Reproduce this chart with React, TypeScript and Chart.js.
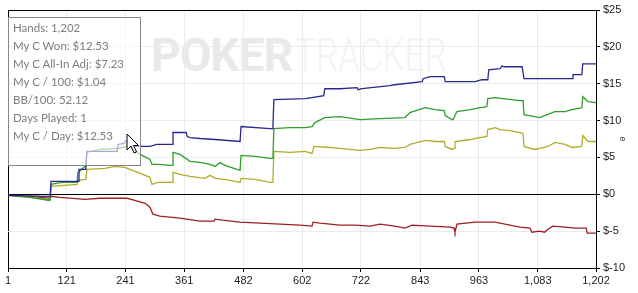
import React, { useEffect, useRef } from 'react';
import { Chart, registerables } from 'chart.js';

Chart.register(...registerables);

// ---- data ----
const handTicks = [1, 121, 241, 361, 482, 602, 722, 843, 963, 1083, 1202];
const dollarTicks = [-10, -5, 0, 5, 10, 15, 20, 25];

const blueHands = [1, 83, 87, 89, 144, 146, 160, 162, 224, 226, 238, 240, 246, 250, 291, 305, 336, 338, 365, 367, 373, 393, 424, 475, 477, 536, 542, 544, 608, 622, 646, 648, 679, 714, 716, 724, 781, 791, 847, 849, 863, 892, 894, 955, 969, 981, 983, 1006, 1010, 1014, 1051, 1055, 1153, 1155, 1173, 1175, 1202];
const blueWonPlusRake = [-0.14, -0.27, -0.27, 1.76, 1.76, 3.38, 3.38, 5.81, 5.81, 6.76, 6.89, 7.16, 7.30, 6.49, 6.49, 6.76, 6.76, 8.38, 8.38, 7.84, 7.70, 7.57, 7.43, 7.16, 9.19, 8.92, 8.92, 12.84, 12.97, 13.11, 13.38, 14.32, 14.32, 14.46, 14.19, 14.32, 14.73, 14.86, 15.27, 15.68, 15.95, 15.95, 15.27, 15.27, 15.54, 15.54, 16.89, 17.03, 17.43, 17.30, 17.30, 15.68, 15.68, 16.22, 16.22, 17.70, 17.70];

const greenHands = [1, 46, 83, 87, 89, 111, 142, 144, 158, 160, 162, 189, 226, 244, 260, 271, 291, 295, 307, 336, 338, 352, 373, 393, 414, 424, 434, 444, 475, 477, 506, 536, 542, 544, 577, 608, 622, 628, 648, 679, 720, 761, 812, 822, 853, 873, 892, 894, 908, 910, 918, 945, 965, 979, 981, 996, 1012, 1047, 1053, 1055, 1087, 1097, 1118, 1139, 1153, 1173, 1175, 1186, 1202];
const greenWon = [-0.14, -0.41, -0.81, -0.81, 1.35, 1.62, 1.62, 2.97, 3.78, 3.78, 5.68, 6.08, 6.22, 6.49, 6.08, 5.41, 4.73, 4.05, 4.05, 3.92, 5.68, 5.41, 4.46, 4.32, 4.05, 3.78, 4.32, 3.92, 3.24, 5.27, 5.14, 4.86, 4.86, 8.92, 9.05, 9.05, 9.19, 9.73, 10.41, 10.54, 10.14, 10.27, 10.41, 11.08, 11.76, 11.49, 11.35, 10.68, 10.14, 10.14, 11.22, 11.49, 11.76, 11.89, 12.97, 13.11, 12.97, 12.70, 12.70, 10.81, 10.41, 10.68, 11.22, 11.22, 11.49, 11.76, 13.24, 12.57, 12.43];

const yellowHands = [1, 46, 83, 87, 89, 142, 144, 160, 162, 199, 220, 240, 250, 271, 291, 295, 307, 336, 338, 352, 373, 403, 414, 424, 444, 475, 477, 506, 536, 542, 544, 577, 608, 622, 626, 658, 679, 720, 740, 761, 791, 812, 822, 853, 873, 892, 894, 908, 912, 914, 945, 965, 979, 981, 996, 1006, 1026, 1047, 1053, 1055, 1077, 1087, 1104, 1118, 1139, 1153, 1173, 1175, 1186, 1202];
const yellowAllInAdj = [-0.14, -0.41, -0.68, -0.68, 1.08, 1.35, 1.89, 2.03, 3.38, 3.51, 3.78, 3.65, 3.38, 2.84, 2.30, 1.35, 1.62, 1.62, 2.97, 2.70, 2.43, 2.16, 2.57, 2.16, 2.03, 1.62, 2.16, 2.03, 1.62, 1.62, 5.81, 5.68, 5.81, 5.54, 6.49, 6.35, 6.22, 5.95, 6.08, 6.35, 6.22, 6.35, 6.76, 7.30, 7.16, 7.16, 6.49, 6.08, 6.22, 7.16, 7.43, 7.70, 7.84, 8.78, 9.05, 8.78, 8.65, 8.38, 8.24, 6.49, 6.08, 6.22, 6.49, 7.03, 6.76, 6.35, 6.49, 7.97, 7.16, 7.16];

const redHands = [1, 46, 85, 87, 89, 107, 158, 189, 244, 260, 281, 291, 297, 311, 352, 393, 422, 424, 438, 475, 516, 557, 597, 622, 624, 638, 679, 710, 740, 761, 791, 812, 826, 863, 904, 912, 914, 918, 955, 996, 1026, 1047, 1067, 1071, 1087, 1097, 1104, 1114, 1139, 1159, 1182, 1184, 1202];
const redRake = [-0.14, -0.27, -0.54, -0.54, -0.27, -0.41, -0.68, -0.54, -0.54, -0.81, -1.22, -1.76, -2.70, -2.97, -3.24, -3.65, -3.65, -3.38, -3.51, -3.78, -3.92, -4.05, -4.19, -4.32, -3.78, -3.92, -4.19, -4.19, -4.32, -4.05, -4.32, -4.59, -4.19, -4.32, -4.46, -4.59, -5.14, -4.05, -3.78, -3.78, -4.19, -4.46, -4.59, -5.14, -5.00, -5.14, -4.73, -4.32, -4.46, -4.59, -4.59, -5.27, -5.27];

const infoLines = [
  'Hands: 1,202',
  'My C Won: $12.53',
  'My C All-In Adj: $7.23',
  'My C / 100: $1.04',
  'BB/100: 52.12',
  'Days Played: 1',
  'My C / Day: $12.53',
];

const toPoints = (xs: number[], ys: number[]) => xs.map((x, i) => ({ x, y: ys[i] }));

const axisFont = { family: "'Liberation Sans', Arial, sans-serif", size: 11 };

export default function App() {
  const ref = useRef<HTMLCanvasElement | null>(null);

  useEffect(() => {
    if (!ref.current) return;
    const chart = new Chart(ref.current, {
      type: 'line',
      data: {
        datasets: [
          { label: 'My C Won + Rake', data: toPoints(blueHands, blueWonPlusRake), borderColor: '#28288c', borderWidth: 1.3, pointRadius: 0, tension: 0 },
          { label: 'My C Won', data: toPoints(greenHands, greenWon), borderColor: '#2f9e2f', borderWidth: 1.3, pointRadius: 0, tension: 0 },
          { label: 'My C All-In Adj', data: toPoints(yellowHands, yellowAllInAdj), borderColor: '#b1ab2a', borderWidth: 1.3, pointRadius: 0, tension: 0 },
          { label: 'Rake', data: toPoints(redHands, redRake), borderColor: '#9e2020', borderWidth: 1.3, pointRadius: 0, tension: 0 },
        ],
      },
      options: {
        animation: false,
        responsive: false,
        devicePixelRatio: 1,
        layout: { padding: { left: 8, top: 10, right: 0, bottom: 0 } },
        plugins: { legend: { display: false }, tooltip: { enabled: false } },
        scales: {
          x: {
            type: 'linear',
            min: 1,
            max: 1202,
            position: 'bottom',
            afterBuildTicks: (s: any) => { s.ticks = handTicks.map((v) => ({ value: v })); },
            afterFit: (s: any) => { s.height = 25; },
            ticks: {
              autoSkip: false,
              maxRotation: 0,
              font: axisFont,
              color: '#222',
              padding: 2,
              callback: (v: any) => Number(v).toLocaleString('en-US'),
            },
            grid: {
              color: (c: any) => (c.tick && c.tick.value === 1 ? '#000' : '#ebebeb'),
              tickColor: '#000',
              tickLength: 4,
            },
            border: { color: '#000', width: 1 },
          },
          y: {
            position: 'right',
            min: -10,
            max: 25,
            afterBuildTicks: (s: any) => { s.ticks = dollarTicks.map((v) => ({ value: v })); },
            afterFit: (s: any) => { s.width = 42; },
            ticks: {
              font: axisFont,
              color: '#222',
              padding: 3,
              callback: (v: any) => '$' + v,
            },
            grid: {
              color: (c: any) => (c.tick && (c.tick.value === 0 || c.tick.value === 25) ? '#000' : '#ebebeb'),
              tickColor: '#000',
              tickLength: 4,
            },
            border: { color: '#000', width: 1 },
            title: { display: true, text: 'e', color: '#333', font: { family: 'Arial', size: 9 }, padding: { top: 10, bottom: 0 } },
          },
        },
      },
    });
    return () => chart.destroy();
  }, []);

  return (
    <div style={{ position: 'fixed', left: 0, top: 0, width: 638, height: 293, background: '#fff', overflow: 'hidden' }}>
      <div
        style={{
          position: 'absolute',
          left: 151,
          top: 25,
          whiteSpace: 'nowrap',
          fontFamily: 'Roboto, Arial, sans-serif',
          fontSize: 46,
          lineHeight: '60px',
        }}
      >
        <span style={{ color: '#e9e9e9', fontWeight: 700, letterSpacing: -1 }}>POKER</span>
        <span style={{ display: 'inline-block', color: '#f3f3f3', fontWeight: 300, transform: 'scaleX(0.76)', transformOrigin: 'left center', marginLeft: 3 }}>TRACKER</span>
      </div>
      <canvas ref={ref} width={638} height={293} style={{ position: 'absolute', left: 0, top: 0, width: 638, height: 293 }} />
      <div
        style={{
          position: 'absolute',
          left: 8,
          top: 17,
          width: 127,
          height: 146,
          border: '1px solid #888',
          background: 'rgba(255,255,255,0.6)',
          paddingTop: 1,
          paddingLeft: 4,
          boxSizing: 'content-box',
          fontFamily: 'Lato, Arial, sans-serif',
          fontSize: 11.5,
          color: '#7d7d7d',
          lineHeight: '18px',
          whiteSpace: 'nowrap',
        }}
      >
        {infoLines.map((t) => (
          <div key={t}>{t}</div>
        ))}
      </div>
      <svg width={14} height={22} style={{ position: 'absolute', left: 126, top: 133 }}>
        <path d="M1 1 L1 17 L5 13 L8 20 L10.5 19 L7.5 12.5 L12.5 12.5 Z" fill="#fff" stroke="#000" strokeWidth={1} strokeLinejoin="miter" />
      </svg>
    </div>
  );
}
